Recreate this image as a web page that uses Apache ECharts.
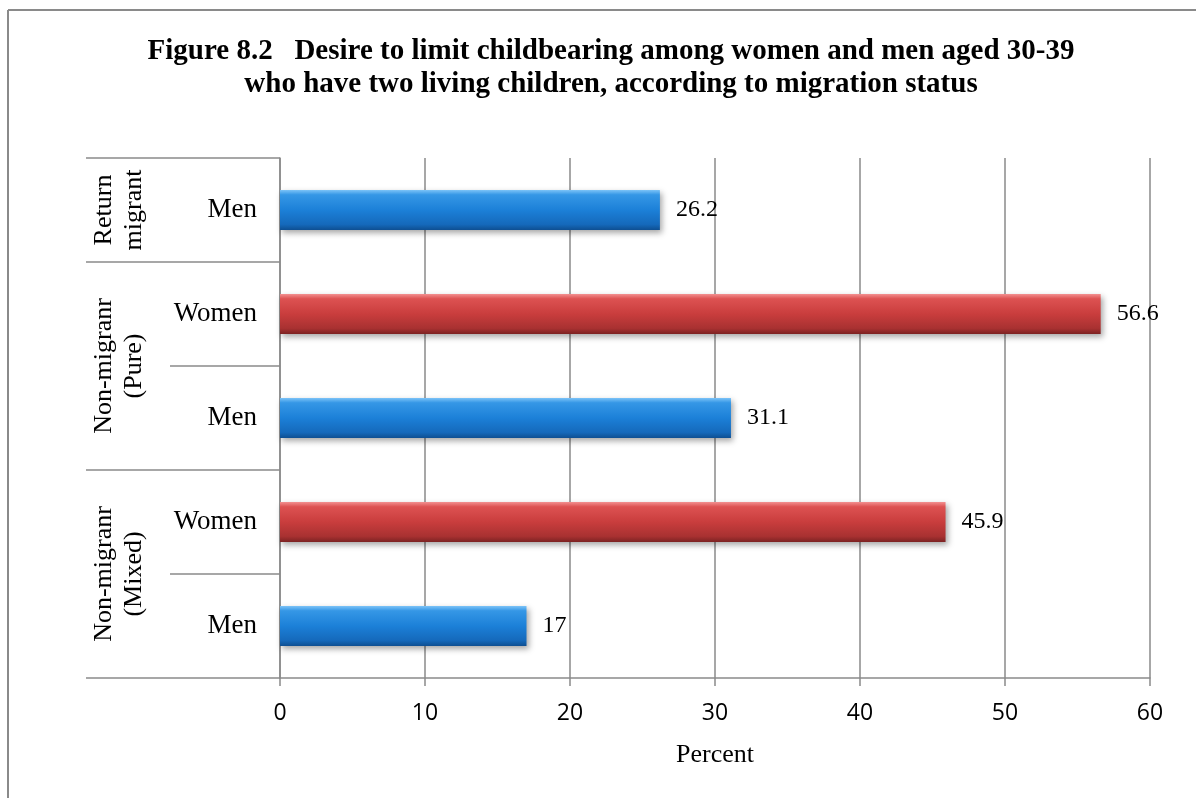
<!DOCTYPE html>
<html>
<head>
<meta charset="utf-8">
<style>
  html, body { margin: 0; padding: 0; background: #fff; }
  #chart { width: 1196px; height: 798px; }
</style>
<script src="https://cdn.jsdelivr.net/npm/echarts@6/dist/echarts.min.js"></script>
</head>
<body>
<div id="chart"></div>
<script>
// Rows from top to bottom
const categories = ['Men', 'Women', 'Men', 'Women', 'Men'];
const values = [26.2, 56.6, 31.1, 45.9, 17];
// Migration-status groups: label and how many rows they span (top to bottom)
const groupLabels = ['Return\nmigrant', 'Non-migranr\n(Pure)', 'Non-migranr\n(Mixed)'];
const groupSizes = [1, 2, 2];
const xTicks = { min: 0, max: 60, interval: 10 };

const SERIF = '"Liberation Serif", "Times New Roman", serif';
const SANS = '"Open Sans", "Liberation Sans", sans-serif';
const GRID_GRAY = '#8a8a8a';

const gradients = {
  Men: new echarts.graphic.LinearGradient(0, 0, 0, 1, [
    { offset: 0, color: '#7cc3f7' },
    { offset: 0.12, color: '#3597e6' },
    { offset: 0.5, color: '#1c80d8' },
    { offset: 0.86, color: '#1569bb' },
    { offset: 1, color: '#0e4f92' }
  ]),
  Women: new echarts.graphic.LinearGradient(0, 0, 0, 1, [
    { offset: 0, color: '#f39090' },
    { offset: 0.12, color: '#dd5252' },
    { offset: 0.5, color: '#c93d3d' },
    { offset: 0.86, color: '#a83131' },
    { offset: 1, color: '#7c2222' }
  ])
};

// Build group ranges [start, end] as row indices
const groupRanges = [];
let cursor = 0;
groupSizes.forEach((n, i) => {
  groupRanges.push([0, cursor, cursor + n - 1, i]);
  cursor += n;
});

const chart = echarts.init(document.getElementById('chart'), null, { renderer: 'canvas' });

chart.setOption({
  animation: false,
  backgroundColor: '#ffffff',
  title: {
    text: 'Figure 8.2   Desire to limit childbearing among women and men aged 30-39\nwho have two living children, according to migration status',
    left: 606,
    top: 30,
    textAlign: 'center',
    textStyle: {
      fontFamily: SERIF,
      fontWeight: 'bold',
      fontSize: 29,
      lineHeight: 33,
      color: '#000'
    }
  },
  graphic: [
    { type: 'line', shape: { x1: 8, y1: 10, x2: 1196, y2: 10 }, style: { stroke: GRID_GRAY, lineWidth: 2 }, silent: true },
    { type: 'line', shape: { x1: 8, y1: 10, x2: 8, y2: 798 }, style: { stroke: GRID_GRAY, lineWidth: 2 }, silent: true }
  ],
  grid: { left: 280, right: 46, top: 158, bottom: 120, containLabel: false },
  xAxis: {
    type: 'value',
    min: xTicks.min,
    max: xTicks.max,
    interval: xTicks.interval,
    name: 'Percent',
    nameLocation: 'middle',
    nameGap: 64,
    nameTextStyle: { fontFamily: SERIF, fontSize: 26, color: '#000' },
    axisLine: { show: true, lineStyle: { color: GRID_GRAY, width: 1.5 } },
    axisTick: { show: true, length: 8, lineStyle: { color: GRID_GRAY, width: 1.5 } },
    axisLabel: { margin: 24, fontFamily: SANS, fontSize: 23, color: '#000' },
    splitLine: { show: true, lineStyle: { color: GRID_GRAY, width: 1.5 } }
  },
  yAxis: {
    type: 'category',
    data: categories,
    inverse: true,
    axisLine: { show: true, onZero: false, lineStyle: { color: GRID_GRAY, width: 1.5 } },
    axisTick: { show: false },
    axisLabel: { margin: 23, fontFamily: SERIF, fontSize: 27, color: '#000' },
    splitLine: { show: false }
  },
  series: [
    {
      type: 'bar',
      barWidth: 40,
      data: values.map((v, i) => ({
        value: v,
        itemStyle: { color: gradients[categories[i]] }
      })),
      itemStyle: {
        shadowColor: 'rgba(0,0,0,0.35)',
        shadowBlur: 6,
        shadowOffsetX: 2,
        shadowOffsetY: 3
      },
      label: {
        show: true,
        position: 'right',
        distance: 16,
        fontFamily: SERIF,
        fontSize: 24,
        color: '#000',
        formatter: p => String(p.value)
      },
      z: 3
    },
    {
      // Group labels and row separators in the left-hand label column
      type: 'custom',
      clip: false,
      silent: true,
      data: groupRanges,
      encode: { x: 0, y: 1 },
      renderItem: function (params, api) {
        const start = api.value(1);
        const end = api.value(2);
        const gi = api.value(3);
        const band = api.size([0, 1])[1];
        const x0 = api.coord([0, start])[0];
        const top = api.coord([0, start])[1] - band / 2;
        const bottom = api.coord([0, end])[1] + band / 2;
        const lineStyle = { stroke: GRID_GRAY, lineWidth: 1.5 };
        const children = [];
        if (gi === 0) {
          children.push({ type: 'line', shape: { x1: x0 - 194, y1: top, x2: x0, y2: top }, style: lineStyle });
        }
        children.push({ type: 'line', shape: { x1: x0 - 194, y1: bottom, x2: x0, y2: bottom }, style: lineStyle });
        for (let r = start; r < end; r++) {
          const y = api.coord([0, r])[1] + band / 2;
          children.push({ type: 'line', shape: { x1: x0 - 110, y1: y, x2: x0, y2: y }, style: lineStyle });
        }
        children.push({
          type: 'text',
          x: x0 - 161,
          y: (top + bottom) / 2,
          rotation: Math.PI / 2,
          style: {
            text: groupLabels[gi],
            fontFamily: SERIF,
            fontSize: 26,
            lineHeight: 30,
            fill: '#000',
            align: 'center',
            verticalAlign: 'middle'
          }
        });
        return { type: 'group', children: children };
      },
      z: 4
    }
  ]
});
</script>
</body>
</html>
